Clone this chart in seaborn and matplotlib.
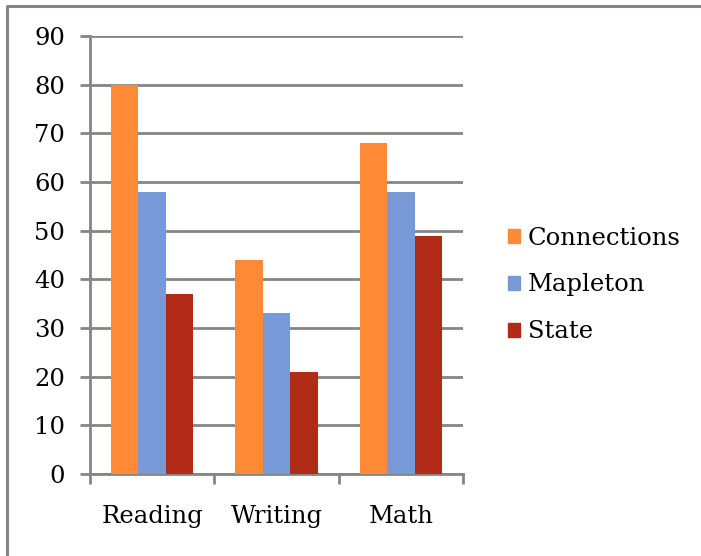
import matplotlib
matplotlib.use("Agg")
import matplotlib.pyplot as plt
from matplotlib.lines import Line2D
from matplotlib.ticker import FixedLocator, MultipleLocator
import pandas as pd
import seaborn as sns

subjects = ["Reading", "Writing", "Math"]
schools = ["Connections", "Mapleton", "State"]
connections = [80, 44, 68]
mapleton = [58, 33, 58]
state = [37, 21, 49]
colors = ["#FF8A36", "#7799D7", "#B22B18"]

rows = []
for school, vals in zip(schools, [connections, mapleton, state]):
    for subj, v in zip(subjects, vals):
        rows.append({"subject": subj, "school": school, "score": v})
df = pd.DataFrame(rows)

sns.set_theme(style="white")
plt.rcParams["font.family"] = ["DejaVu Serif"]
plt.rcParams["text.color"] = "black"

FS = 17.5
W, H = 701, 556
fig = plt.figure(figsize=(W / 100, H / 100), dpi=100)
ax = fig.add_axes([90 / W, (H - 474) / H, (463 - 90) / W, (474 - 36) / H])

grid_c = "#858585"
sns.barplot(data=df, x="subject", y="score", hue="school", order=subjects,
            hue_order=schools, palette=colors, width=0.66, saturation=1,
            gap=0, ax=ax, zorder=3, edgecolor="none", linewidth=0,
            legend=False)

ax.set_ylim(0, 90)
ax.set_xlim(-0.5, 2.5)
ax.yaxis.set_major_locator(MultipleLocator(10))
ax.yaxis.grid(True, color=grid_c, linewidth=2)
ax.set_axisbelow(True)
ax.set_xlabel("")
ax.set_ylabel("")

for side in ["top", "right"]:
    ax.spines[side].set_visible(False)
for side in ["left", "bottom"]:
    ax.spines[side].set_color(grid_c)
    ax.spines[side].set_linewidth(2)

ax.tick_params(axis="y", which="major", left=True, length=7, width=2,
               color=grid_c, direction="out", labelsize=FS, pad=11,
               labelcolor="black")
ax.xaxis.set_minor_locator(FixedLocator([-0.5, 0.5, 1.5, 2.5]))
ax.tick_params(axis="x", which="minor", bottom=True, length=7, width=2,
               color=grid_c, direction="out")
ax.tick_params(axis="x", which="major", bottom=False, length=0,
               labelsize=FS, pad=22, labelcolor="black")

handles = [plt.Rectangle((0, 0), 1, 1, color=c) for c in colors]
fig.legend(handles, schools, loc="center left",
           bbox_to_anchor=(486 / W, 1 - 285 / H), frameon=False,
           fontsize=FS, handlelength=0.5, handleheight=0.5,
           handletextpad=0.33, labelspacing=0.98, labelcolor="black")

# outer frame on the left and top edges
fig.add_artist(Line2D([7 / W, 7 / W, 1], [0, 1 - 6 / H, 1 - 6 / H],
                      transform=fig.transFigure, color=grid_c, linewidth=2.2))

fig.savefig("out.png", dpi=100, facecolor="white")
